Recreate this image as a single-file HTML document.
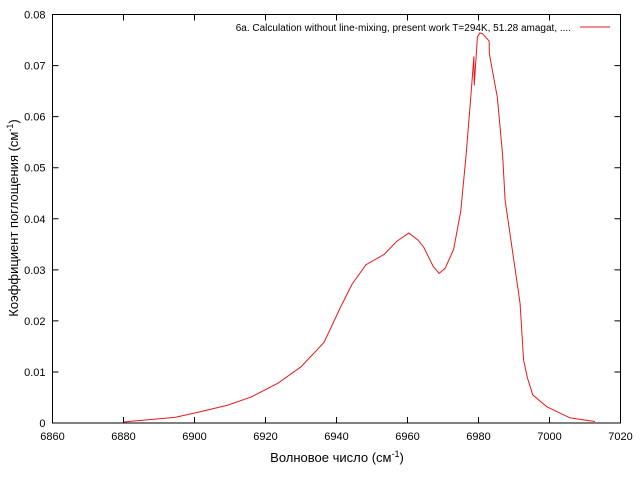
<!DOCTYPE html>
<html><head><meta charset="utf-8"><style>body{margin:0;background:#fff}svg{display:block;font-family:"Liberation Sans","DejaVu Sans",sans-serif}</style></head>
<body>
<svg id="chart" width="640" height="480"></svg>
<script>
const xTicks=[6860,6880,6900,6920,6940,6960,6980,7000,7020];
const yTicks=[0,0.01,0.02,0.03,0.04,0.05,0.06,0.07,0.08];
const yTickLabels=["0","0.01","0.02","0.03","0.04","0.05","0.06","0.07","0.08"];
const wavenumbers=[6880,6894.5,6901,6909.4,6916,6923.5,6930,6936.5,6941,6944.4,6948.3,6953.4,6957,6960.4,6963,6964.6,6967.2,6968.9,6970.6,6973,6975,6976.5,6977.9,6978.7,6978.8,6979.7,6980.4,6981.2,6983,6983.05,6985.3,6986.8,6987.5,6991.7,6992.7,6993.8,6995.3,6999.2,7005.8,7012.8];
const absorption=[0.0002,0.0011,0.0021,0.0035,0.0051,0.0078,0.011,0.0158,0.0225,0.0272,0.031,0.033,0.0356,0.0372,0.0358,0.0344,0.0307,0.0293,0.0303,0.034,0.0415,0.0524,0.0645,0.0718,0.0661,0.0756,0.0764,0.0762,0.0748,0.0723,0.0638,0.0524,0.0436,0.0235,0.0123,0.0088,0.0055,0.0032,0.001,0.0003];
const L=52.5,R=620.5,T=14.5,B=423;
const sx=v=>L+(v-6860)/160*(R-L), sy=v=>B-v/0.08*(B-T);
const svg=document.getElementById('chart'),NS='http://www.w3.org/2000/svg';
function mk(t,a,txt){const e=document.createElementNS(NS,t);for(const k in a)e.setAttribute(k,a[k]);if(txt!==undefined)e.textContent=txt;svg.appendChild(e);return e;}
xTicks.forEach(v=>{const x=sx(v);
const t=mk('path',{d:`M${x},${B}v-6M${x},${T}v6`,stroke:'#000','stroke-width':1});

const l=mk('text',{x:x,y:B+17,'text-anchor':'middle','font-size':11},String(v));
});
yTicks.forEach((v,i)=>{const y=sy(v);
const t=mk('path',{d:`M${L},${y}h6M${R},${y}h-6`,stroke:'#000','stroke-width':1});

const l=mk('text',{x:L-7,y:y+4,'text-anchor':'end','font-size':11},yTickLabels[i]);
});
const fr=mk('rect',{x:L,y:T,width:R-L,height:B-T,fill:'none',stroke:'#000','stroke-width':1});

const line=mk('polyline',{points:wavenumbers.map((w,i)=>sx(w)+','+sy(absorption[i])).join(' '),fill:'none',stroke:'#e41a1c','stroke-width':1});

const lt=mk('text',{x:571,y:31,'text-anchor':'end','font-size':10},'6a. Calculation without line-mixing, present work T=294K, 51.28 amagat, ....');

const ll=mk('line',{x1:580,y1:27,x2:610,y2:27,stroke:'#e41a1c','stroke-width':1});

const xt=mk('text',{x:337,y:462,'text-anchor':'middle','font-size':13});
xt.innerHTML='Волновое число (см<tspan dy="-5" font-size="9">-1</tspan><tspan dy="5">)</tspan>';

const yt=mk('text',{x:0,y:0,'text-anchor':'middle','font-size':13,transform:'translate(18,218) rotate(-90)'});
yt.innerHTML='Коэффициент поглощения (см<tspan dy="-5" font-size="9">-1</tspan><tspan dy="5">)</tspan>';

</script>
</body></html>
